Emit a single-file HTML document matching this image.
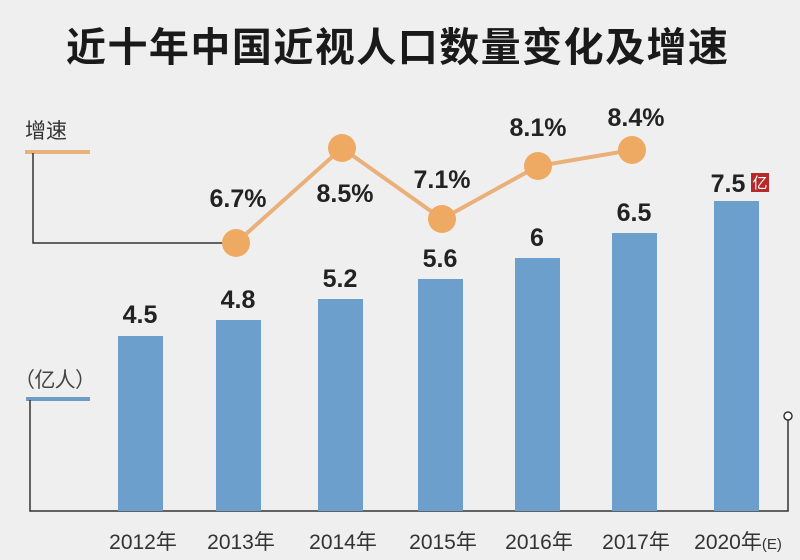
<!DOCTYPE html>
<html><head><meta charset="utf-8"><style>
html,body{margin:0;padding:0;background:#efefef;}
svg{display:block;}
text{font-family:"Liberation Sans","Noto Sans CJK SC",sans-serif;}
</style></head><body>
<svg width="800" height="560" viewBox="0 0 800 560" xmlns="http://www.w3.org/2000/svg">
<rect width="800" height="560" fill="#efefef"/>
<text x="397" y="61" text-anchor="middle" font-size="40" font-weight="bold" fill="#1a1a1a" textLength="662" lengthAdjust="spacing" font-family="'Noto Sans CJK SC',sans-serif">近十年中国近视人口数量变化及增速</text>
<text x="25" y="138" font-size="21" fill="#333" font-family="'Noto Sans CJK SC',sans-serif">增速</text>
<line x1="25" y1="152" x2="90" y2="152" stroke="#e8b27a" stroke-width="4"/>
<polyline points="33,153 33,243 236,243" fill="none" stroke="#333" stroke-width="1.5"/>
<text x="14" y="387" font-size="21" fill="#444" font-family="'Noto Sans CJK SC',sans-serif" textLength="82" lengthAdjust="spacing">（亿人）</text>
<line x1="26" y1="399" x2="90" y2="399" stroke="#6e9cc4" stroke-width="4"/>
<polyline points="30,400 30,511 788,511 788,420" fill="none" stroke="#333" stroke-width="1.5"/>
<circle cx="788" cy="416" r="4" fill="#fff" stroke="#333" stroke-width="1.5"/>
<g fill="#6c9fcc">
<rect x="118" y="336" width="45" height="175"/>
<rect x="216" y="320" width="45" height="191"/>
<rect x="318" y="299" width="45" height="212"/>
<rect x="418" y="279" width="45" height="232"/>
<rect x="515" y="258" width="45" height="253"/>
<rect x="612" y="233" width="45" height="278"/>
<rect x="714" y="201" width="45" height="310"/>
</g>
<g font-size="25" font-weight="bold" fill="#222" text-anchor="middle">
<text x="140" y="323">4.5</text>
<text x="238" y="308">4.8</text>
<text x="340" y="287">5.2</text>
<text x="440" y="267">5.6</text>
<text x="537" y="246">6</text>
<text x="634" y="221">6.5</text>
<text x="728" y="192">7.5</text>
</g>
<rect x="751" y="173" width="18" height="19" fill="#b52a2a"/>
<text x="760" y="188" font-size="15" fill="#fff" text-anchor="middle" font-family="'Noto Sans CJK SC',sans-serif">亿</text>
<polyline points="236,243 342,148 442,219 538,166 632,150" fill="none" stroke="#eab07a" stroke-width="4"/>
<g fill="#eeaa62">
<circle cx="236" cy="243" r="14"/>
<circle cx="342" cy="148" r="14"/>
<circle cx="442" cy="219" r="14"/>
<circle cx="538" cy="166" r="14"/>
<circle cx="632" cy="150" r="14"/>
</g>
<g font-size="25" font-weight="bold" fill="#222" text-anchor="middle">
<text x="238" y="207">6.7%</text>
<text x="345" y="202">8.5%</text>
<text x="442" y="188">7.1%</text>
<text x="538" y="136">8.1%</text>
<text x="636" y="126">8.4%</text>
</g>
<g font-size="21" fill="#333" text-anchor="middle">
<text x="143" y="549">2012年</text>
<text x="241" y="549">2013年</text>
<text x="343" y="549">2014年</text>
<text x="443" y="549">2015年</text>
<text x="539" y="549">2016年</text>
<text x="636" y="549">2017年</text>
<text x="738" y="549">2020年<tspan font-size="15">(E)</tspan></text>
</g>
</svg>
</body></html>
